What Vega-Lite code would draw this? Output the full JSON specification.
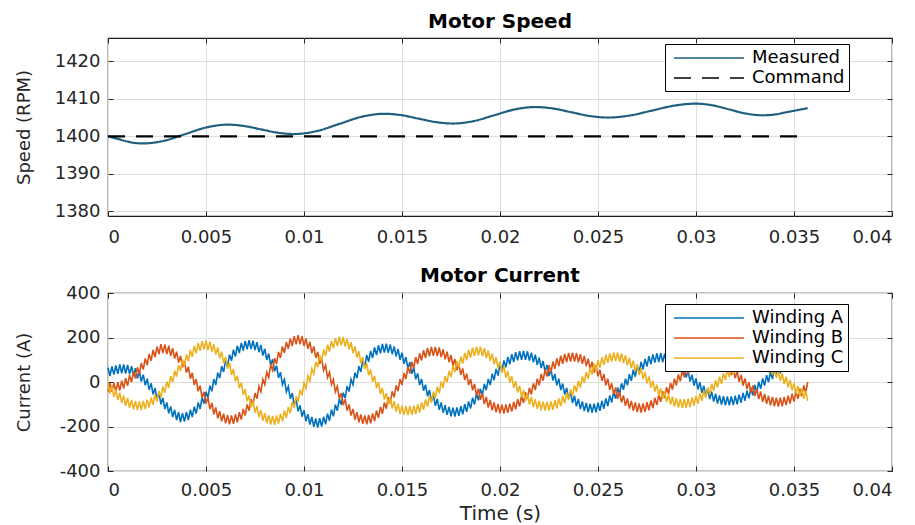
{
"$schema":"https://vega.github.io/schema/vega-lite/v6.json",
"padding":{"left":14,"top":10,"right":0,"bottom":0},
"config":{
"font":"DejaVu Sans",
"view":{"stroke":"#1a1a1a","strokeWidth":1.2},
"axis":{"grid":true,"gridColor":"#dedede","gridWidth":1,"domain":false,"tickColor":"#262626","tickSize":-5,"tickWidth":1,"labelFontSize":18,"labelColor":"#262626","labelFont":"DejaVu Sans","titleFont":"DejaVu Sans","titleFontSize":18,"titleFontWeight":"normal","titleColor":"#262626"},
"title":{"fontSize":20,"fontWeight":"bold","color":"#000000","font":"DejaVu Sans","baseline":"alphabetic"},
"legend":{"orient":"none","title":null,"symbolType":"M-0.556,0H7.222","symbolSize":324,"symbolStrokeWidth":1.5,"labelFontSize":18,"labelFont":"DejaVu Sans","labelColor":"#000000","labelOffset":63,"padding":4,"rowPadding":1,"strokeColor":"#000000","fillColor":"#ffffff"}
},
"datasets":{
"speed":[
{"t":0,"series":"Measured","speed":1400.0},{"t":0.0005,"series":"Measured","speed":1399.3},{"t":0.001,"series":"Measured","speed":1398.6},{"t":0.0014,"series":"Measured","speed":1398.2},{"t":0.0018,"series":"Measured","speed":1398.1},{"t":0.00288,"series":"Measured","speed":1398.83},{"t":0.00395,"series":"Measured","speed":1400.6},{"t":0.00503,"series":"Measured","speed":1402.37},{"t":0.0061,"series":"Measured","speed":1403.1},{"t":0.00695,"series":"Measured","speed":1402.74},{"t":0.0078,"series":"Measured","speed":1401.85},{"t":0.00865,"series":"Measured","speed":1400.97},{"t":0.0095,"series":"Measured","speed":1400.6},{"t":0.01065,"series":"Measured","speed":1401.39},{"t":0.0118,"series":"Measured","speed":1403.3},{"t":0.01295,"series":"Measured","speed":1405.21},{"t":0.0141,"series":"Measured","speed":1406.0},{"t":0.01498,"series":"Measured","speed":1405.62},{"t":0.01585,"series":"Measured","speed":1404.7},{"t":0.01673,"series":"Measured","speed":1403.78},{"t":0.0176,"series":"Measured","speed":1403.4},{"t":0.01865,"series":"Measured","speed":1404.04},{"t":0.0197,"series":"Measured","speed":1405.6},{"t":0.02075,"series":"Measured","speed":1407.16},{"t":0.0218,"series":"Measured","speed":1407.8},{"t":0.02273,"series":"Measured","speed":1407.39},{"t":0.02365,"series":"Measured","speed":1406.4},{"t":0.02458,"series":"Measured","speed":1405.41},{"t":0.0255,"series":"Measured","speed":1405.0},{"t":0.02663,"series":"Measured","speed":1405.54},{"t":0.02775,"series":"Measured","speed":1406.85},{"t":0.02888,"series":"Measured","speed":1408.16},{"t":0.03,"series":"Measured","speed":1408.7},{"t":0.03085,"series":"Measured","speed":1408.25},{"t":0.0317,"series":"Measured","speed":1407.15},{"t":0.03255,"series":"Measured","speed":1406.05},{"t":0.0334,"series":"Measured","speed":1405.6},{"t":0.034,"series":"Measured","speed":1405.8},{"t":0.0346,"series":"Measured","speed":1406.4},{"t":0.0352,"series":"Measured","speed":1407.0},{"t":0.0357,"series":"Measured","speed":1407.5},
{"t":0,"series":"Command","speed":1400},{"t":0.0357,"series":"Command","speed":1400}
],
"current":[
{"t":0,"A":64,"B":-43,"C":-5},{"t":0.0001,"A":27,"B":-4,"C":-52},{"t":0.0002,"A":70,"B":-44,"C":-20},{"t":0.0003,"A":33,"B":-4,"C":-67},{"t":0.0004,"A":75,"B":-43,"C":-34},{"t":0.0005,"A":37,"B":-1,"C":-81},{"t":0.0006,"A":79,"B":-38,"C":-48},{"t":0.0007,"A":39,"B":6,"C":-95},{"t":0.0008,"A":79,"B":-29,"C":-61},{"t":0.0009,"A":38,"B":17,"C":-107},
{"t":0.001,"A":77,"B":-17,"C":-72},{"t":0.0011,"A":34,"B":31,"C":-116},{"t":0.0012,"A":71,"B":-1,"C":-80},{"t":0.0013,"A":27,"B":47,"C":-123},{"t":0.0014,"A":62,"B":16,"C":-85},{"t":0.0015,"A":16,"B":66,"C":-126},{"t":0.0016,"A":49,"B":36,"C":-87},{"t":0.0017,"A":2,"B":86,"C":-126},{"t":0.0018,"A":33,"B":56,"C":-85},{"t":0.0019,"A":-15,"B":106,"C":-122},
{"t":0.002,"A":15,"B":76,"C":-79},{"t":0.0021,"A":-35,"B":126,"C":-115},{"t":0.0022,"A":-5,"B":95,"C":-70},{"t":0.0023,"A":-56,"B":144,"C":-103},{"t":0.0024,"A":-27,"B":112,"C":-56},{"t":0.0025,"A":-78,"B":159,"C":-88},{"t":0.0026,"A":-49,"B":125,"C":-40},{"t":0.0027,"A":-100,"B":170,"C":-70},{"t":0.0028,"A":-71,"B":130,"C":-20},{"t":0.0029,"A":-122,"B":169,"C":-49},
{"t":0.003,"A":-92,"B":126,"C":2},{"t":0.0031,"A":-141,"B":163,"C":-26},{"t":0.0032,"A":-110,"B":118,"C":26},{"t":0.0033,"A":-158,"B":152,"C":-1},{"t":0.0034,"A":-125,"B":105,"C":51},{"t":0.0035,"A":-171,"B":136,"C":24},{"t":0.0036,"A":-136,"B":87,"C":76},{"t":0.0037,"A":-180,"B":117,"C":49},{"t":0.0038,"A":-140,"B":66,"C":101},{"t":0.0039,"A":-178,"B":94,"C":73},
{"t":0.004,"A":-135,"B":42,"C":124},{"t":0.0041,"A":-171,"B":69,"C":94},{"t":0.0042,"A":-125,"B":15,"C":144},{"t":0.0043,"A":-158,"B":41,"C":113},{"t":0.0044,"A":-111,"B":-13,"C":162},{"t":0.0045,"A":-142,"B":13,"C":129},{"t":0.0046,"A":-92,"B":-42,"C":175},{"t":0.0047,"A":-121,"B":-16,"C":140},{"t":0.0048,"A":-70,"B":-70,"C":184},{"t":0.0049,"A":-97,"B":-44,"C":146},
{"t":0.005,"A":-44,"B":-97,"C":186},{"t":0.0051,"A":-70,"B":-70,"C":144},{"t":0.0052,"A":-16,"B":-122,"C":181},{"t":0.0053,"A":-42,"B":-94,"C":136},{"t":0.0054,"A":13,"B":-145,"C":170},{"t":0.0055,"A":-13,"B":-114,"C":123},{"t":0.0056,"A":42,"B":-163,"C":155},{"t":0.0057,"A":17,"B":-131,"C":106},{"t":0.0058,"A":71,"B":-177,"C":136},{"t":0.0059,"A":45,"B":-142,"C":84},
{"t":0.006,"A":98,"B":-186,"C":113},{"t":0.0061,"A":71,"B":-149,"C":60},{"t":0.0062,"A":123,"B":-190,"C":86},{"t":0.0063,"A":95,"B":-150,"C":32},{"t":0.0064,"A":145,"B":-188,"C":58},{"t":0.0065,"A":115,"B":-146,"C":3},{"t":0.0066,"A":163,"B":-181,"C":28},{"t":0.0067,"A":130,"B":-136,"C":-28},{"t":0.0068,"A":176,"B":-169,"C":-3},{"t":0.0069,"A":141,"B":-121,"C":-58},
{"t":0.007,"A":185,"B":-151,"C":-32},{"t":0.0071,"A":147,"B":-101,"C":-87},{"t":0.0072,"A":188,"B":-129,"C":-61},{"t":0.0073,"A":148,"B":-77,"C":-114},{"t":0.0074,"A":186,"B":-104,"C":-86},{"t":0.0075,"A":143,"B":-50,"C":-138},{"t":0.0076,"A":179,"B":-75,"C":-108},{"t":0.0077,"A":134,"B":-20,"C":-158},{"t":0.0078,"A":167,"B":-44,"C":-127},{"t":0.0079,"A":119,"B":12,"C":-174},
{"t":0.008,"A":149,"B":-12,"C":-140},{"t":0.0081,"A":99,"B":44,"C":-185},{"t":0.0082,"A":128,"B":20,"C":-149},{"t":0.0083,"A":75,"B":76,"C":-191},{"t":0.0084,"A":102,"B":52,"C":-152},{"t":0.0085,"A":48,"B":107,"C":-192},{"t":0.0086,"A":74,"B":81,"C":-150},{"t":0.0087,"A":19,"B":135,"C":-187},{"t":0.0088,"A":44,"B":108,"C":-142},{"t":0.0089,"A":-12,"B":160,"C":-177},
{"t":0.009,"A":12,"B":130,"C":-129},{"t":0.0091,"A":-44,"B":180,"C":-161},{"t":0.0092,"A":-20,"B":149,"C":-112},{"t":0.0093,"A":-75,"B":196,"C":-141},{"t":0.0094,"A":-50,"B":162,"C":-89},{"t":0.0095,"A":-105,"B":206,"C":-117},{"t":0.0096,"A":-79,"B":169,"C":-64},{"t":0.0097,"A":-132,"B":210,"C":-89},{"t":0.0098,"A":-105,"B":169,"C":-35},{"t":0.0099,"A":-156,"B":206,"C":-60},
{"t":0.01,"A":-127,"B":162,"C":-4},{"t":0.0101,"A":-176,"B":196,"C":-28},{"t":0.0102,"A":-145,"B":149,"C":28},{"t":0.0103,"A":-191,"B":180,"C":4},{"t":0.0104,"A":-157,"B":130,"C":60},{"t":0.0105,"A":-201,"B":160,"C":36},{"t":0.0106,"A":-164,"B":108,"C":91},{"t":0.0107,"A":-205,"B":135,"C":66},{"t":0.0108,"A":-163,"B":81,"C":120},{"t":0.0109,"A":-200,"B":107,"C":93},
{"t":0.011,"A":-156,"B":52,"C":146},{"t":0.0111,"A":-190,"B":76,"C":117},{"t":0.0112,"A":-142,"B":20,"C":168},{"t":0.0113,"A":-174,"B":44,"C":137},{"t":0.0114,"A":-124,"B":-12,"C":185},{"t":0.0115,"A":-154,"B":12,"C":152},{"t":0.0116,"A":-102,"B":-44,"C":197},{"t":0.0117,"A":-129,"B":-20,"C":161},{"t":0.0118,"A":-76,"B":-75,"C":204},{"t":0.0119,"A":-102,"B":-50,"C":165},
{"t":0.012,"A":-48,"B":-104,"C":203},{"t":0.0121,"A":-73,"B":-77,"C":159},{"t":0.0122,"A":-18,"B":-129,"C":194},{"t":0.0123,"A":-43,"B":-101,"C":147},{"t":0.0124,"A":12,"B":-151,"C":179},{"t":0.0125,"A":-12,"B":-121,"C":130},{"t":0.0126,"A":42,"B":-169,"C":160},{"t":0.0127,"A":17,"B":-136,"C":110},{"t":0.0128,"A":71,"B":-181,"C":138},{"t":0.0129,"A":45,"B":-146,"C":85},
{"t":0.013,"A":97,"B":-188,"C":112},{"t":0.0131,"A":69,"B":-150,"C":58},{"t":0.0132,"A":121,"B":-190,"C":84},{"t":0.0133,"A":91,"B":-148,"C":30},{"t":0.0134,"A":140,"B":-186,"C":56},{"t":0.0135,"A":108,"B":-141,"C":1},{"t":0.0136,"A":155,"B":-176,"C":27},{"t":0.0137,"A":121,"B":-129,"C":-27},{"t":0.0138,"A":166,"B":-161,"C":-1},{"t":0.0139,"A":129,"B":-112,"C":-54},
{"t":0.014,"A":171,"B":-143,"C":-27},{"t":0.0141,"A":132,"B":-92,"C":-79},{"t":0.0142,"A":172,"B":-120,"C":-50},{"t":0.0143,"A":131,"B":-68,"C":-100},{"t":0.0144,"A":169,"B":-95,"C":-70},{"t":0.0145,"A":125,"B":-42,"C":-119},{"t":0.0146,"A":160,"B":-69,"C":-86},{"t":0.0147,"A":115,"B":-15,"C":-133},{"t":0.0148,"A":148,"B":-41,"C":-98},{"t":0.0149,"A":100,"B":13,"C":-143},
{"t":0.015,"A":132,"B":-13,"C":-106},{"t":0.0151,"A":82,"B":40,"C":-148},{"t":0.0152,"A":112,"B":14,"C":-109},{"t":0.0153,"A":61,"B":67,"C":-149},{"t":0.0154,"A":89,"B":39,"C":-108},{"t":0.0155,"A":37,"B":91,"C":-148},{"t":0.0156,"A":65,"B":62,"C":-107},{"t":0.0157,"A":12,"B":112,"C":-144},{"t":0.0158,"A":39,"B":81,"C":-101},{"t":0.0159,"A":-14,"B":129,"C":-137},
{"t":0.016,"A":14,"B":97,"C":-92},{"t":0.0161,"A":-39,"B":143,"C":-125},{"t":0.0162,"A":-12,"B":108,"C":-78},{"t":0.0163,"A":-64,"B":153,"C":-111},{"t":0.0164,"A":-36,"B":116,"C":-62},{"t":0.0165,"A":-87,"B":158,"C":-93},{"t":0.0166,"A":-57,"B":118,"C":-43},{"t":0.0167,"A":-107,"B":158,"C":-72},{"t":0.0168,"A":-76,"B":117,"C":-21},{"t":0.0169,"A":-125,"B":155,"C":-50},
{"t":0.017,"A":-92,"B":112,"C":2},{"t":0.0171,"A":-138,"B":147,"C":-26},{"t":0.0172,"A":-104,"B":102,"C":26},{"t":0.0173,"A":-148,"B":136,"C":-2},{"t":0.0174,"A":-112,"B":89,"C":50},{"t":0.0175,"A":-154,"B":121,"C":22},{"t":0.0176,"A":-115,"B":73,"C":73},{"t":0.0177,"A":-155,"B":103,"C":44},{"t":0.0178,"A":-114,"B":53,"C":95},{"t":0.0179,"A":-152,"B":83,"C":65},
{"t":0.018,"A":-109,"B":32,"C":115},{"t":0.0181,"A":-145,"B":61,"C":83},{"t":0.0182,"A":-100,"B":9,"C":131},{"t":0.0183,"A":-134,"B":38,"C":98},{"t":0.0184,"A":-87,"B":-14,"C":145},{"t":0.0185,"A":-119,"B":14,"C":110},{"t":0.0186,"A":-71,"B":-37,"C":154},{"t":0.0187,"A":-101,"B":-9,"C":117},{"t":0.0188,"A":-52,"B":-60,"C":159},{"t":0.0189,"A":-82,"B":-30,"C":120},
{"t":0.019,"A":-31,"B":-80,"C":159},{"t":0.0191,"A":-60,"B":-50,"C":116},{"t":0.0192,"A":-9,"B":-99,"C":152},{"t":0.0193,"A":-37,"B":-67,"C":108},{"t":0.0194,"A":14,"B":-115,"C":142},{"t":0.0195,"A":-14,"B":-81,"C":95},{"t":0.0196,"A":37,"B":-127,"C":128},{"t":0.0197,"A":8,"B":-92,"C":80},{"t":0.0198,"A":59,"B":-136,"C":111},{"t":0.0199,"A":29,"B":-99,"C":62},
{"t":0.02,"A":79,"B":-141,"C":92},{"t":0.0201,"A":49,"B":-102,"C":41},{"t":0.0202,"A":97,"B":-142,"C":70},{"t":0.0203,"A":66,"B":-101,"C":19},{"t":0.0204,"A":113,"B":-139,"C":48},{"t":0.0205,"A":80,"B":-97,"C":-3},{"t":0.0206,"A":125,"B":-133,"C":26},{"t":0.0207,"A":90,"B":-89,"C":-26},{"t":0.0208,"A":134,"B":-123,"C":4},{"t":0.0209,"A":97,"B":-77,"C":-47},
{"t":0.021,"A":139,"B":-110,"C":-17},{"t":0.0211,"A":100,"B":-63,"C":-67},{"t":0.0212,"A":140,"B":-94,"C":-36},{"t":0.0213,"A":100,"B":-46,"C":-85},{"t":0.0214,"A":138,"B":-76,"C":-53},{"t":0.0215,"A":96,"B":-26,"C":-100},{"t":0.0216,"A":132,"B":-56,"C":-67},{"t":0.0217,"A":88,"B":-6,"C":-113},{"t":0.0218,"A":123,"B":-36,"C":-77},{"t":0.0219,"A":77,"B":15,"C":-121},
{"t":0.022,"A":110,"B":-15,"C":-85},{"t":0.0221,"A":63,"B":36,"C":-127},{"t":0.0222,"A":94,"B":6,"C":-88},{"t":0.0223,"A":46,"B":56,"C":-128},{"t":0.0224,"A":77,"B":25,"C":-88},{"t":0.0225,"A":27,"B":75,"C":-128},{"t":0.0226,"A":57,"B":43,"C":-87},{"t":0.0227,"A":7,"B":92,"C":-125},{"t":0.0228,"A":36,"B":59,"C":-82},{"t":0.0229,"A":-15,"B":106,"C":-118},
{"t":0.023,"A":15,"B":72,"C":-74},{"t":0.0231,"A":-36,"B":118,"C":-108},{"t":0.0232,"A":-7,"B":82,"C":-62},{"t":0.0233,"A":-57,"B":126,"C":-96},{"t":0.0234,"A":-27,"B":89,"C":-48},{"t":0.0235,"A":-76,"B":131,"C":-81},{"t":0.0236,"A":-45,"B":92,"C":-32},{"t":0.0237,"A":-94,"B":132,"C":-63},{"t":0.0238,"A":-62,"B":92,"C":-14},{"t":0.0239,"A":-109,"B":130,"C":-45},
{"t":0.024,"A":-76,"B":88,"C":5},{"t":0.0241,"A":-122,"B":125,"C":-25},{"t":0.0242,"A":-87,"B":82,"C":25},{"t":0.0243,"A":-131,"B":117,"C":-5},{"t":0.0244,"A":-94,"B":71,"C":45},{"t":0.0245,"A":-136,"B":105,"C":14},{"t":0.0246,"A":-98,"B":58,"C":64},{"t":0.0247,"A":-138,"B":91,"C":33},{"t":0.0248,"A":-97,"B":43,"C":82},{"t":0.0249,"A":-136,"B":74,"C":50},
{"t":0.025,"A":-93,"B":25,"C":98},{"t":0.0251,"A":-130,"B":55,"C":65},{"t":0.0252,"A":-85,"B":5,"C":111},{"t":0.0253,"A":-120,"B":35,"C":77},{"t":0.0254,"A":-74,"B":-15,"C":122},{"t":0.0255,"A":-108,"B":15,"C":86},{"t":0.0256,"A":-60,"B":-35,"C":129},{"t":0.0257,"A":-92,"B":-6,"C":92},{"t":0.0258,"A":-44,"B":-56,"C":133},{"t":0.0259,"A":-75,"B":-25,"C":94},
{"t":0.026,"A":-25,"B":-75,"C":133},{"t":0.0261,"A":-55,"B":-44,"C":91},{"t":0.0262,"A":-6,"B":-92,"C":128},{"t":0.0263,"A":-35,"B":-60,"C":85},{"t":0.0264,"A":15,"B":-107,"C":121},{"t":0.0265,"A":-15,"B":-74,"C":75},{"t":0.0266,"A":35,"B":-120,"C":109},{"t":0.0267,"A":5,"B":-85,"C":63},{"t":0.0268,"A":55,"B":-129,"C":96},{"t":0.0269,"A":24,"B":-92,"C":48},
{"t":0.027,"A":73,"B":-135,"C":80},{"t":0.0271,"A":42,"B":-96,"C":31},{"t":0.0272,"A":90,"B":-137,"C":62},{"t":0.0273,"A":57,"B":-96,"C":13},{"t":0.0274,"A":104,"B":-134,"C":44},{"t":0.0275,"A":70,"B":-91,"C":-6},{"t":0.0276,"A":116,"B":-127,"C":25},{"t":0.0277,"A":80,"B":-83,"C":-25},{"t":0.0278,"A":124,"B":-117,"C":6},{"t":0.0279,"A":87,"B":-71,"C":-43},
{"t":0.028,"A":129,"B":-104,"C":-12},{"t":0.0281,"A":90,"B":-57,"C":-61},{"t":0.0282,"A":130,"B":-89,"C":-29},{"t":0.0283,"A":89,"B":-41,"C":-76},{"t":0.0284,"A":127,"B":-72,"C":-43},{"t":0.0285,"A":84,"B":-23,"C":-90},{"t":0.0286,"A":120,"B":-53,"C":-56},{"t":0.0287,"A":76,"B":-4,"C":-101},{"t":0.0288,"A":111,"B":-34,"C":-66},{"t":0.0289,"A":65,"B":15,"C":-110},
{"t":0.029,"A":99,"B":-15,"C":-73},{"t":0.0291,"A":52,"B":34,"C":-115},{"t":0.0292,"A":84,"B":3,"C":-76},{"t":0.0293,"A":36,"B":52,"C":-117},{"t":0.0294,"A":68,"B":21,"C":-77},{"t":0.0295,"A":20,"B":69,"C":-116},{"t":0.0296,"A":51,"B":36,"C":-75},{"t":0.0297,"A":2,"B":83,"C":-113},{"t":0.0298,"A":33,"B":50,"C":-69},{"t":0.0299,"A":-16,"B":95,"C":-106},
{"t":0.03,"A":16,"B":60,"C":-61},{"t":0.0301,"A":-33,"B":105,"C":-97},{"t":0.0302,"A":-1,"B":68,"C":-51},{"t":0.0303,"A":-49,"B":111,"C":-85},{"t":0.0304,"A":-17,"B":73,"C":-38},{"t":0.0305,"A":-64,"B":115,"C":-71},{"t":0.0306,"A":-31,"B":75,"C":-24},{"t":0.0307,"A":-77,"B":115,"C":-56},{"t":0.0308,"A":-43,"B":75,"C":-8},{"t":0.0309,"A":-88,"B":113,"C":-40},
{"t":0.031,"A":-53,"B":71,"C":8},{"t":0.0311,"A":-97,"B":108,"C":-24},{"t":0.0312,"A":-60,"B":65,"C":24},{"t":0.0313,"A":-102,"B":101,"C":-8},{"t":0.0314,"A":-64,"B":56,"C":40},{"t":0.0315,"A":-105,"B":91,"C":8},{"t":0.0316,"A":-65,"B":45,"C":55},{"t":0.0317,"A":-105,"B":78,"C":22},{"t":0.0318,"A":-65,"B":31,"C":69},{"t":0.0319,"A":-104,"B":64,"C":35},
{"t":0.032,"A":-62,"B":17,"C":81},{"t":0.0321,"A":-100,"B":49,"C":46},{"t":0.0322,"A":-57,"B":1,"C":91},{"t":0.0323,"A":-93,"B":32,"C":55},{"t":0.0324,"A":-49,"B":-16,"C":98},{"t":0.0325,"A":-84,"B":16,"C":61},{"t":0.0326,"A":-39,"B":-32,"C":103},{"t":0.0327,"A":-73,"B":-1,"C":64},{"t":0.0328,"A":-27,"B":-48,"C":105},{"t":0.0329,"A":-60,"B":-16,"C":65},
{"t":0.033,"A":-13,"B":-63,"C":104},{"t":0.0331,"A":-46,"B":-30,"C":63},{"t":0.0332,"A":1,"B":-77,"C":101},{"t":0.0333,"A":-31,"B":-43,"C":59},{"t":0.0334,"A":16,"B":-89,"C":96},{"t":0.0335,"A":-16,"B":-54,"C":52},{"t":0.0336,"A":31,"B":-98,"C":88},{"t":0.0337,"A":-1,"B":-62,"C":43},{"t":0.0338,"A":46,"B":-105,"C":78},{"t":0.0339,"A":13,"B":-67,"C":32},
{"t":0.034,"A":60,"B":-109,"C":66},{"t":0.0341,"A":27,"B":-70,"C":19},{"t":0.0342,"A":73,"B":-110,"C":52},{"t":0.0343,"A":39,"B":-70,"C":5},{"t":0.0344,"A":84,"B":-109,"C":38},{"t":0.0345,"A":49,"B":-67,"C":-9},{"t":0.0346,"A":93,"B":-104,"C":24},{"t":0.0347,"A":57,"B":-61,"C":-24},{"t":0.0348,"A":100,"B":-97,"C":9},{"t":0.0349,"A":62,"B":-53,"C":-38},
{"t":0.035,"A":104,"B":-88,"C":-5},{"t":0.0351,"A":65,"B":-42,"C":-52},{"t":0.0352,"A":105,"B":-76,"C":-18},{"t":0.0353,"A":65,"B":-30,"C":-64},{"t":0.0354,"A":104,"B":-63,"C":-30},{"t":0.0355,"A":62,"B":-15,"C":-76},{"t":0.0356,"A":100,"B":-48,"C":-40},{"t":0.0357,"A":57,"B":0,"C":-85}
]
},
"bounds":"flush",
"spacing":77,
"resolve":{"scale":{"color":"independent","strokeDash":"independent","x":"independent","y":"independent"},"legend":{"color":"independent","strokeDash":"independent"}},
"vconcat":[
{
"width":784,"height":178,
"title":{"text":"Motor Speed","offset":6},
"data":{"name":"speed"},
"layer":[
{"mark":{"type":"line","interpolate":"monotone","strokeWidth":2.2},
"encoding":{
"x":{"field":"t","type":"quantitative","scale":{"domain":[0,0.04],"nice":false,"zero":false},"axis":{"values":[0,0.005,0.01,0.015,0.02,0.025,0.03,0.035,0.04],"labelExpr":"toString(datum.value)","title":null,"labelBaseline":"alphabetic","labelPadding":31}},
"y":{"field":"speed","type":"quantitative","scale":{"domain":[1378.75,1426.2],"nice":false,"zero":false},"axis":{"values":[1380,1390,1400,1410,1420],"labelExpr":"toString(datum.value)","title":"Speed (RPM)","titleX":-79,"titleBaseline":"alphabetic","labelPadding":13}},
"color":{"field":"series","type":"nominal","scale":{"domain":["Measured","Command"],"range":["#1f5f7f","#000000"]},"legend":{"legendX":557,"legendY":6,"title":null}},
"strokeDash":{"field":"series","type":"nominal","scale":{"domain":["Measured","Command"],"range":[[1,0],[17,11]]},"legend":{"legendX":557,"legendY":6,"title":null}}
}},
{"mark":{"type":"line","opacity":0},
"encoding":{
"x":{"field":"t","type":"quantitative","axis":{"orient":"top","values":[0,0.005,0.01,0.015,0.02,0.025,0.03,0.035,0.04],"labels":false,"grid":false,"title":null}},
"y":{"field":"speed","type":"quantitative","axis":{"orient":"right","values":[1380,1390,1400,1410,1420],"labels":false,"grid":false,"title":null}}
}}
],
"resolve":{"axis":{"x":"independent","y":"independent"}}
},
{
"width":784,"height":178,
"title":{"text":"Motor Current","offset":-2},
"data":{"name":"current"},
"transform":[{"fold":["A","B","C"],"as":["winding","current"]}],
"layer":[
{"mark":{"type":"line","strokeWidth":1.6},
"encoding":{
"x":{"field":"t","type":"quantitative","scale":{"domain":[0,0.04],"nice":false,"zero":false},"axis":{"values":[0,0.005,0.01,0.015,0.02,0.025,0.03,0.035,0.04],"labelExpr":"toString(datum.value)","title":"Time (s)","titleFontSize":20,"titleY":48,"titleBaseline":"alphabetic","labelBaseline":"alphabetic","labelPadding":29}},
"y":{"field":"current","type":"quantitative","scale":{"domain":[-400,400],"nice":false},"axis":{"values":[-400,-200,0,200,400],"labelExpr":"toString(datum.value)","title":"Current (A)","titleX":-79,"titleBaseline":"alphabetic","labelPadding":13}},
"color":{"field":"winding","type":"nominal","scale":{"domain":["A","B","C"],"range":["#0072BD","#D95319","#EDB120"]},"legend":{"legendX":557,"legendY":11,"title":null,"labelExpr":"'Winding ' + datum.label"}}
}},
{"mark":{"type":"line","opacity":0},
"encoding":{
"x":{"field":"t","type":"quantitative","axis":{"orient":"top","values":[0,0.005,0.01,0.015,0.02,0.025,0.03,0.035,0.04],"labels":false,"grid":false,"title":null}},
"y":{"field":"current","type":"quantitative","axis":{"orient":"right","values":[-400,-200,0,200,400],"labels":false,"grid":false,"title":null}}
}}
],
"resolve":{"axis":{"x":"independent","y":"independent"}}
}
]
}
